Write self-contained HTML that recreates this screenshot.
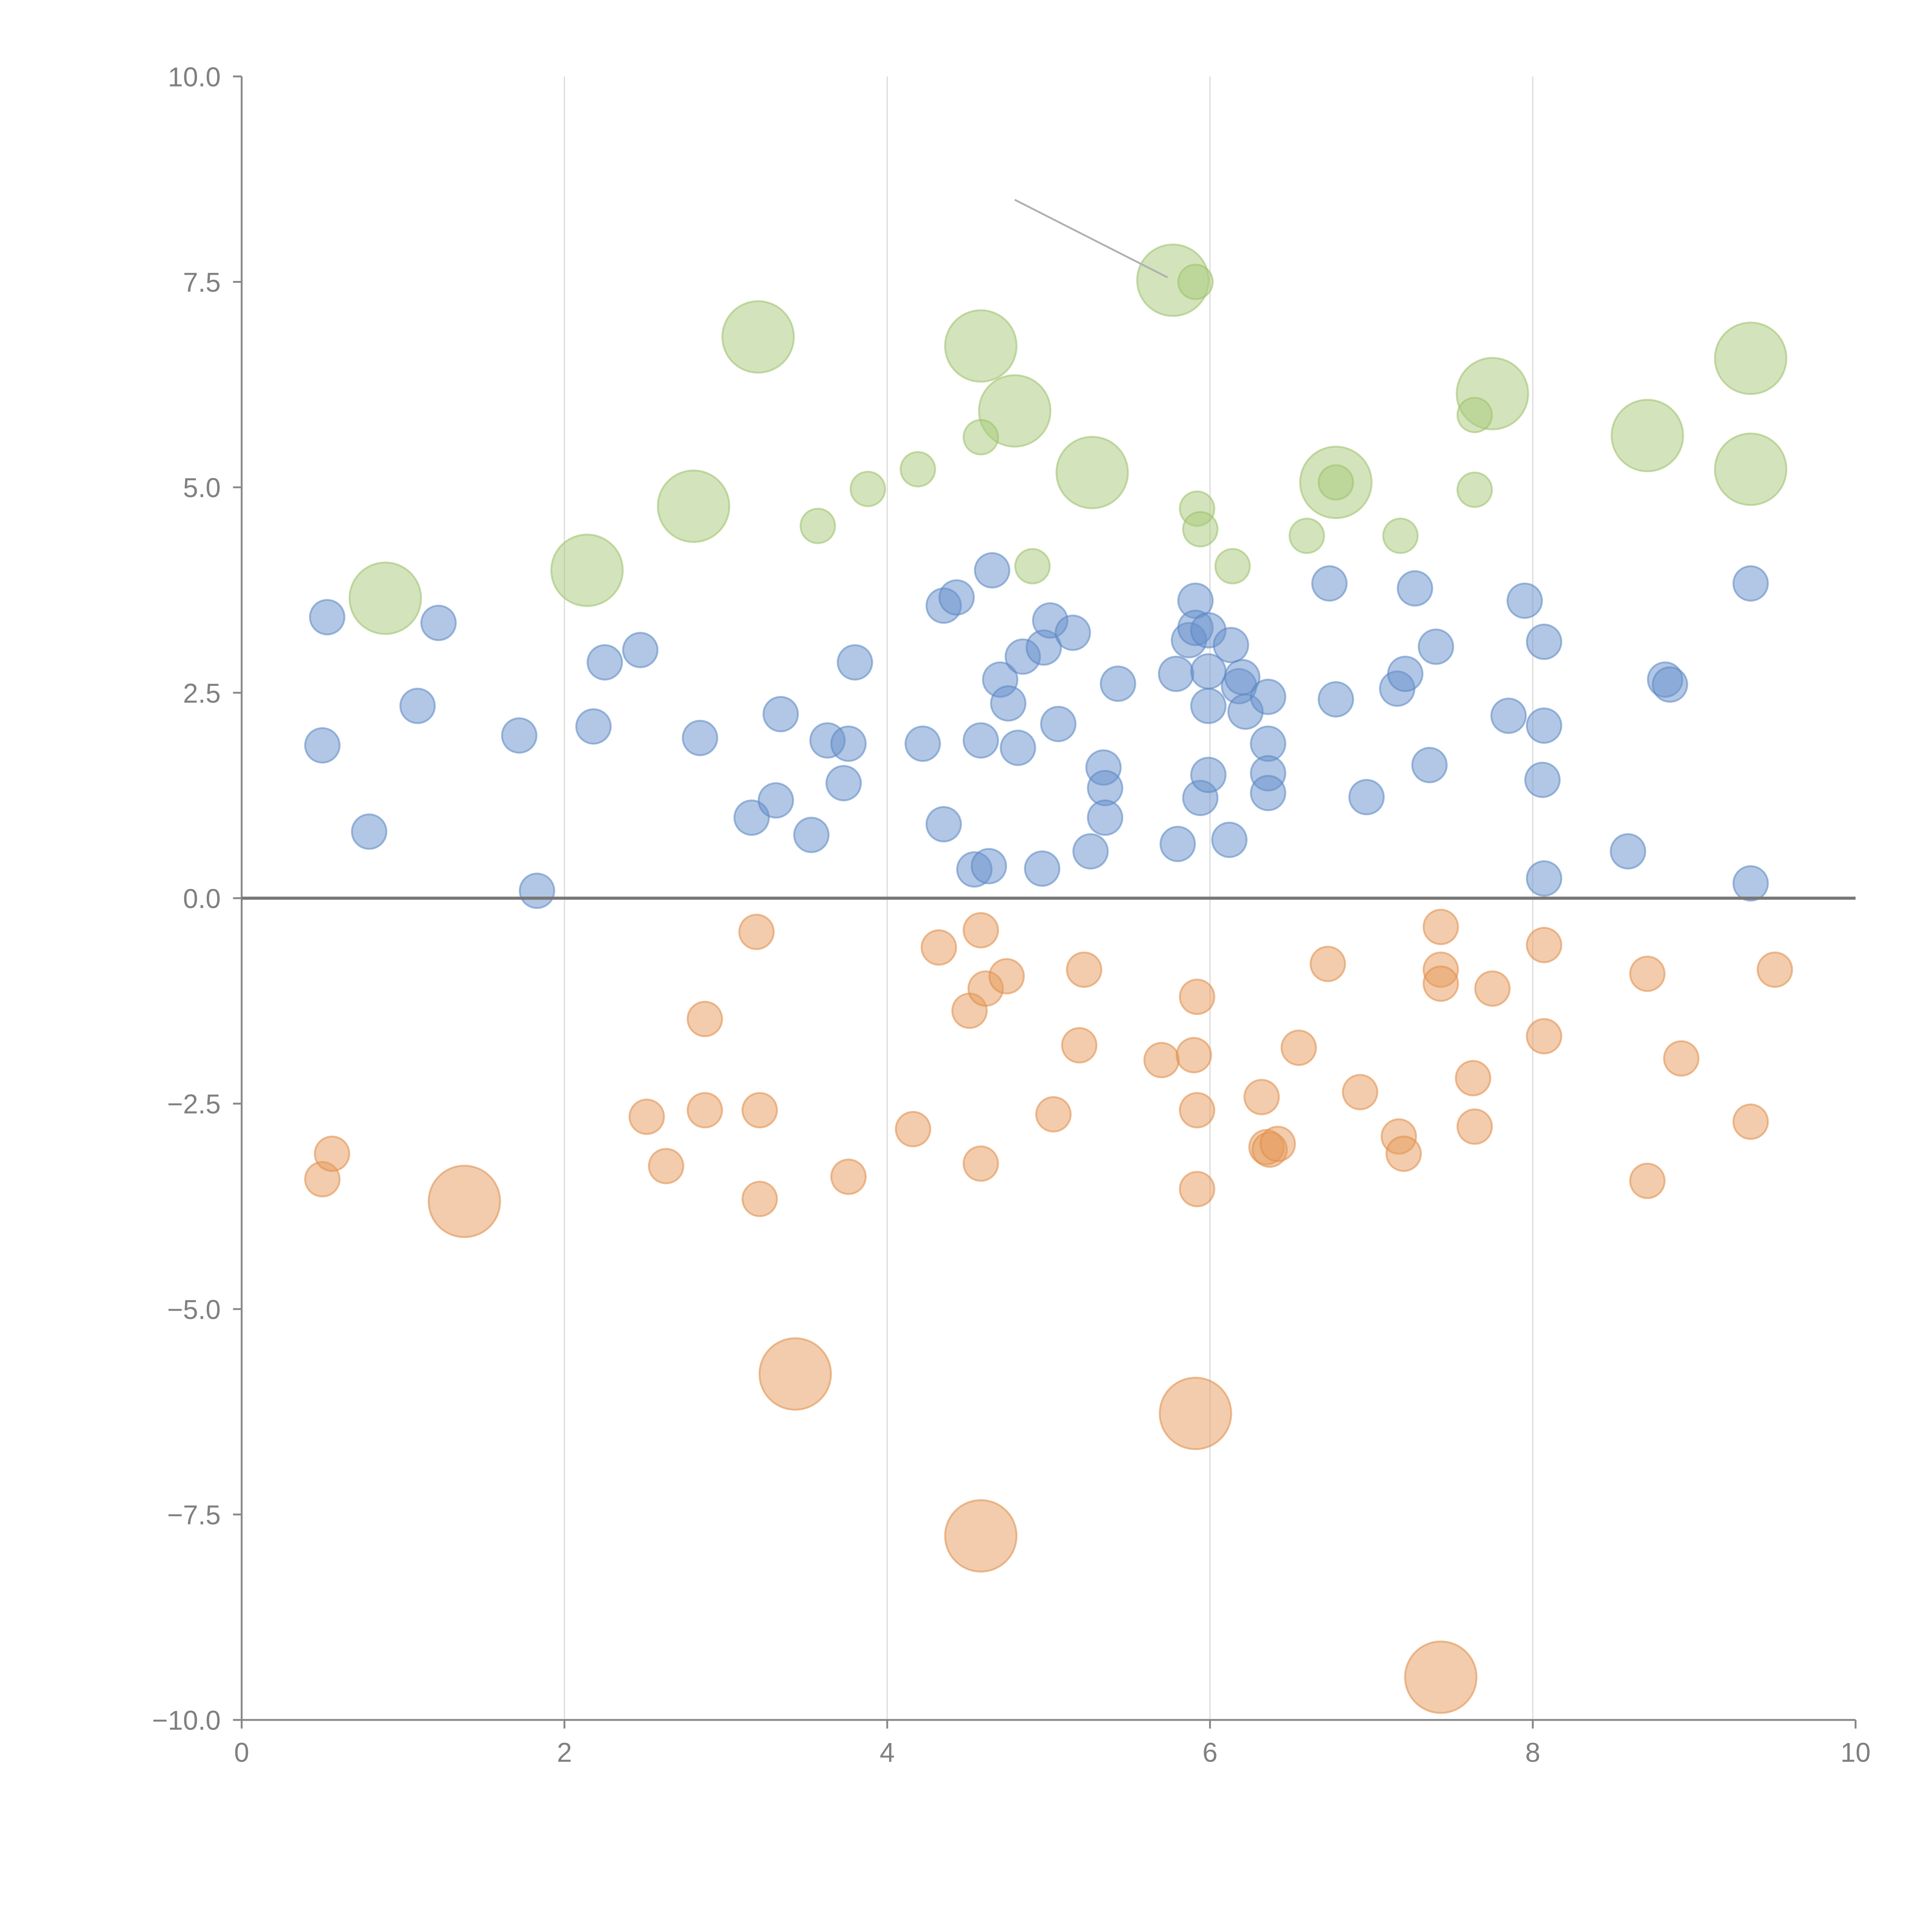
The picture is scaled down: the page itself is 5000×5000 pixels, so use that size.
<!DOCTYPE html>
<html><head><meta charset="utf-8"><style>
html,body{margin:0;padding:0;background:#fff}
svg{display:block}
text{font-family:"Liberation Sans",Arial,sans-serif;fill:#808080}
</style></head><body>
<svg id="chart" width="5000" height="5000" viewBox="0 0 1567 1567" xmlns="http://www.w3.org/2000/svg">
<g id="grid"></g>
<g id="marks"></g>
<g id="axes"></g>
</svg>
<script>
const xTicks=[0,2,4,6,8,10];
const yTicks=[-10,-7.5,-5,-2.5,0,2.5,5,7.5,10];
const yTickLabels=["\u221210.0","\u22127.5","\u22125.0","\u22122.5","0.0","2.5","5.0","7.5","10.0"];
const blueX=[0.53,0.50,0.79,1.09,1.22,1.72,1.83,2.18,2.25,2.47,2.84,3.16,3.31,3.34,3.53,3.63,3.73,3.76,3.80,4.22,4.35,4.35,4.43,4.54,4.58,4.63,4.65,4.70,4.75,4.81,4.84,4.96,4.97,5.01,5.06,5.15,5.26,5.34,5.35,5.35,5.43,5.79,5.80,5.87,5.91,5.91,5.94,5.99,5.99,5.99,5.99,6.12,6.13,6.18,6.20,6.22,6.36,6.36,6.36,6.36,6.74,6.78,6.97,7.16,7.21,7.27,7.36,7.40,7.85,7.95,8.07,8.07,8.06,8.07,8.59,8.82,8.85,9.35,9.35];
const blueY=[3.42,1.86,0.81,2.34,3.35,1.98,0.09,2.09,2.87,3.02,1.95,0.98,1.19,2.24,0.77,1.92,1.40,1.88,2.87,1.88,0.90,3.56,3.66,0.35,1.92,0.39,3.99,2.66,2.37,1.83,2.94,0.36,3.05,3.38,2.12,3.23,0.57,1.59,1.34,0.98,2.61,2.73,0.66,3.14,3.62,3.29,1.22,1.50,3.26,2.76,2.34,0.71,3.08,2.58,2.69,2.27,2.45,1.88,1.52,1.28,3.83,2.42,1.23,2.55,2.73,3.77,1.62,3.06,2.22,3.62,3.12,2.10,1.44,0.24,0.57,2.66,2.60,3.83,0.18];
const greenSmallX=[3.57,3.88,4.19,4.58,4.90,5.91,5.92,5.94,6.14,6.60,6.78,7.18,7.64,7.64];
const greenSmallY=[4.53,4.98,5.22,5.61,4.04,7.50,4.74,4.49,4.04,4.41,5.06,4.41,5.88,4.97];
const greenLargeX=[0.89,2.14,2.80,3.20,4.58,4.79,5.27,5.77,6.78,7.75,8.71,9.35,9.35];
const greenLargeY=[3.65,3.99,4.77,6.83,6.72,5.93,5.18,7.52,5.06,6.14,5.63,6.57,5.22];
const orangeSmallX=[0.50,0.56,2.51,2.63,2.87,2.87,3.19,3.21,3.21,3.76,4.16,4.32,4.51,4.58,4.61,4.74,4.58,5.03,5.19,5.22,5.70,5.90,5.92,5.92,5.92,6.32,6.35,6.37,6.42,6.55,6.73,6.93,7.17,7.20,7.43,7.43,7.43,7.63,7.64,7.75,8.07,8.07,8.71,8.71,8.92,9.35,9.50];
const orangeSmallY=[-3.42,-3.11,-2.66,-3.26,-1.47,-2.58,-0.41,-2.58,-3.66,-3.39,-2.81,-0.60,-1.37,-0.39,-1.10,-0.95,-3.23,-2.63,-1.79,-0.87,-1.97,-1.91,-1.20,-2.58,-3.54,-2.42,-3.03,-3.06,-2.99,-1.82,-0.80,-2.36,-2.90,-3.11,-0.35,-0.87,-1.04,-2.19,-2.78,-1.10,-0.57,-1.68,-0.92,-3.44,-1.95,-2.72,-0.87];
const orangeLargeX=[1.38,3.43,5.91,4.58,7.43];
const orangeLargeY=[-3.69,-5.79,-6.27,-7.76,-9.48];

const NS="http://www.w3.org/2000/svg";
const X0=196,X1=1505,Y0=1395,Y1=62;
function sx(v){return X0+(v-0)/(10-0)*(X1-X0);}
function sy(v){return Y0-(v+10)/20*(Y0-Y1);}
function mk(tag,attrs,parent){const e=document.createElementNS(NS,tag);for(const k in attrs)e.setAttribute(k,attrs[k]);parent.appendChild(e);return e;}
const grid=document.getElementById('grid'),marks=document.getElementById('marks'),axes=document.getElementById('axes');
xTicks.forEach((t,i)=>{
  if(t>0&&t<10){const g=mk('line',{x1:sx(t),x2:sx(t),y1:Y1,y2:Y0,stroke:'#dcdcdc','stroke-width':1},grid);
  
  }
  const tk=mk('line',{x1:sx(t),x2:sx(t),y1:Y0,y2:Y0+7,stroke:'#888','stroke-width':1.5},axes);
  
  
  const tx=mk('text',{x:sx(t),y:Y0+34,'text-anchor':'middle','font-size':22},axes);tx.textContent=String(t);
  
  
});
yTicks.forEach((t,i)=>{
  const tk=mk('line',{x1:X0-7,x2:X0,y1:sy(t),y2:sy(t),stroke:'#888','stroke-width':1.5},axes);
  
  
  const tx=mk('text',{x:X0-17,y:sy(t)+8,'text-anchor':'end','font-size':22},axes);tx.textContent=yTickLabels[i];
  
  
});
const xa=mk('line',{x1:X0,x2:X1,y1:Y0,y2:Y0,stroke:'#888','stroke-width':1.5},axes);


const ya=mk('line',{x1:X0,x2:X0,y1:Y1,y2:Y0,stroke:'#888','stroke-width':1.5},axes);


const zl=mk('line',{x1:X0,x2:X1,y1:sy(0),y2:sy(0),stroke:'#777','stroke-width':2.5},axes);


const an=mk('line',{x1:823,y1:162,x2:947,y2:225,stroke:'#b0b0b0','stroke-width':1.5},axes);


function series(xs,ys,r,fill,stroke,name){
  xs.forEach((x,i)=>{
    const c=mk('circle',{cx:sx(x),cy:sy(ys[i]),r:r,fill:fill,'fill-opacity':0.5,stroke:stroke,'stroke-opacity':0.55,'stroke-width':1.5},marks);
    
    
  });
}
series(greenLargeX,greenLargeY,29,'#a8c97a','#9cbf6a','green-large-bubble');
series(greenSmallX,greenSmallY,14,'#a8c97a','#9cbf6a','green-bubble');
series(blueX,blueY,14,'#6690cc','#5a86c2','blue-bubble');
series(orangeLargeX,orangeLargeY,29,'#e69a5a','#e08c48','orange-large-bubble');
series(orangeSmallX,orangeSmallY,14,'#e69a5a','#e08c48','orange-bubble');
</script>
</body></html>
